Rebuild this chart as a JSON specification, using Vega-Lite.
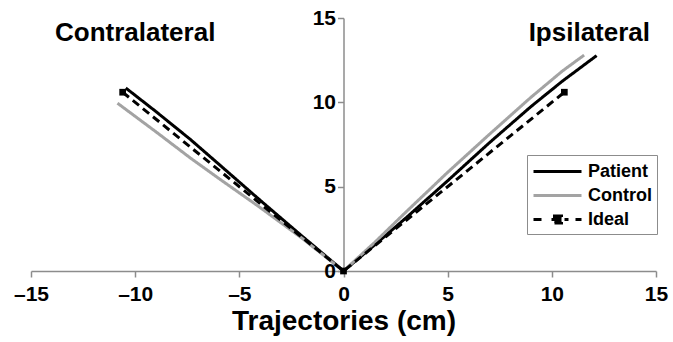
{
  "$schema": "https://vega.github.io/schema/vega-lite/v6.json",
  "width": 625,
  "height": 253,
  "autosize": {"type": "none"},
  "padding": {"left": 31, "top": 18, "right": 17, "bottom": 71},
  "config": {
    "font": "Liberation Sans",
    "view": {"stroke": null},
    "axis": {
      "grid": false,
      "domainColor": "#8c8c8c",
      "domainWidth": 1.5,
      "tickColor": "#8c8c8c",
      "tickWidth": 1.5,
      "tickSize": 6,
      "labelFont": "Liberation Sans",
      "labelFontSize": 21,
      "labelFontWeight": "bold",
      "labelColor": "#000000",
      "titleFont": "Liberation Sans",
      "titleFontSize": 28,
      "titleFontWeight": "bold",
      "titleColor": "#000000"
    }
  },
  "data": {
    "values": [
      {"series": "Patient", "i": 0, "x": -10.45, "y": 10.85},
      {"series": "Patient", "i": 1, "x": -9, "y": 9.45},
      {"series": "Patient", "i": 2, "x": -7.35, "y": 7.8},
      {"series": "Patient", "i": 3, "x": -6, "y": 6.35},
      {"series": "Patient", "i": 4, "x": -4.1, "y": 4.3},
      {"series": "Patient", "i": 5, "x": -2, "y": 2.08},
      {"series": "Patient", "i": 6, "x": 0, "y": 0},
      {"series": "Patient", "i": 7, "x": 1.5, "y": 1.55},
      {"series": "Patient", "i": 8, "x": 3, "y": 3.15},
      {"series": "Patient", "i": 9, "x": 5, "y": 5.35},
      {"series": "Patient", "i": 10, "x": 7, "y": 7.6},
      {"series": "Patient", "i": 11, "x": 9, "y": 9.75},
      {"series": "Patient", "i": 12, "x": 10.5, "y": 11.25},
      {"series": "Patient", "i": 13, "x": 12.15, "y": 12.77},
      {"series": "Control", "i": 0, "x": -10.85, "y": 9.95},
      {"series": "Control", "i": 1, "x": -9, "y": 8.25},
      {"series": "Control", "i": 2, "x": -7.35, "y": 6.7},
      {"series": "Control", "i": 3, "x": -6, "y": 5.5},
      {"series": "Control", "i": 4, "x": -4.1, "y": 3.85},
      {"series": "Control", "i": 5, "x": -2, "y": 1.95},
      {"series": "Control", "i": 6, "x": 0, "y": 0},
      {"series": "Control", "i": 7, "x": 1.5, "y": 1.7},
      {"series": "Control", "i": 8, "x": 3, "y": 3.5},
      {"series": "Control", "i": 9, "x": 5, "y": 5.85},
      {"series": "Control", "i": 10, "x": 7, "y": 8.1},
      {"series": "Control", "i": 11, "x": 9, "y": 10.3},
      {"series": "Control", "i": 12, "x": 10.5, "y": 11.85},
      {"series": "Control", "i": 13, "x": 11.55, "y": 12.8},
      {"series": "Ideal", "i": 0, "x": -10.6, "y": 10.6},
      {"series": "Ideal", "i": 1, "x": 0, "y": 0},
      {"series": "Ideal", "i": 2, "x": 10.6, "y": 10.6}
    ]
  },
  "layer": [
    {
      "mark": {"type": "line"},
      "encoding": {
        "x": {
          "field": "x", "type": "quantitative",
          "scale": {"domain": [-15, 15], "nice": false, "zero": false},
          "axis": {
            "values": [-15, -10, -5, 0, 5, 10, 15],
            "labelExpr": "replace(datum.label, '\u2212', '\u2013')",
            "labelFlush": false,
            "labelOverlap": false,
            "labelPadding": 6,
            "title": "Trajectories (cm)",
            "titlePadding": 3
          }
        },
        "y": {
          "field": "y", "type": "quantitative",
          "scale": {"domain": [0, 15], "nice": false},
          "axis": {
            "values": [0, 5, 10, 15],
            "offset": -312.5,
            "labelPadding": 2,
            "labelFlush": false,
            "labelOverlap": false,
            "title": null
          }
        },
        "color": {
          "field": "series", "type": "nominal",
          "scale": {"domain": ["Patient", "Control", "Ideal"], "range": ["#000000", "#a3a3a3", "#000000"]},
          "legend": {
            "title": null,
            "orient": "none",
            "legendX": 496,
            "legendY": 137,
            "symbolType": "M-1,0H3.8",
            "symbolSize": 400,
            "symbolStrokeWidth": 3,
            "labelFont": "Liberation Sans",
            "labelFontSize": 18,
            "labelFontWeight": "bold",
            "labelColor": "#000000",
            "labelOffset": 33,
            "strokeColor": "#8c8c8c",
            "fillColor": "#ffffff",
            "padding": 5,
            "rowPadding": 3,
            "encode": {
              "symbols": {
                "update": {
                  "shape": {"signal": "datum.value === 'Ideal' ? 'M-1,0H0.3M0.8,0H2.5M1.1,-0.35H1.8V0.35H1.1ZM3.2,0H3.8' : 'M-1,0H3.8'"},
                  "fill": {"signal": "datum.value === 'Ideal' ? '#000000' : 'transparent'"},
                  "strokeWidth": {"signal": "datum.value === 'Ideal' ? 2 : 3"},
                  "strokeDash": {"value": []}
                }
              }
            }
          }
        },
        "strokeDash": {
          "field": "series", "type": "nominal",
          "scale": {"domain": ["Patient", "Control", "Ideal"], "range": [[1, 0], [1, 0], [8, 5]]},
          "legend": null
        },
        "strokeWidth": {
          "field": "series", "type": "nominal",
          "scale": {"domain": ["Patient", "Control", "Ideal"], "range": [3, 3, 2]},
          "legend": null
        },
        "order": {"field": "i", "type": "quantitative"}
      }
    },
    {
      "transform": [{"filter": "datum.series === 'Ideal'"}],
      "mark": {"type": "point", "shape": "square", "filled": true, "color": "#000000", "size": 45, "opacity": 1},
      "encoding": {
        "x": {"field": "x", "type": "quantitative"},
        "y": {"field": "y", "type": "quantitative"}
      }
    },
    {
      "data": {
        "values": [
          {"label": "Contralateral", "x": -10, "y": 14.1},
          {"label": "Ipsilateral", "x": 11.8, "y": 14.1}
        ]
      },
      "mark": {"type": "text", "font": "Liberation Sans", "fontSize": 26, "fontWeight": "bold", "color": "#000000", "baseline": "middle", "align": "center"},
      "encoding": {
        "x": {"field": "x", "type": "quantitative"},
        "y": {"field": "y", "type": "quantitative"},
        "text": {"field": "label"}
      }
    }
  ]
}
